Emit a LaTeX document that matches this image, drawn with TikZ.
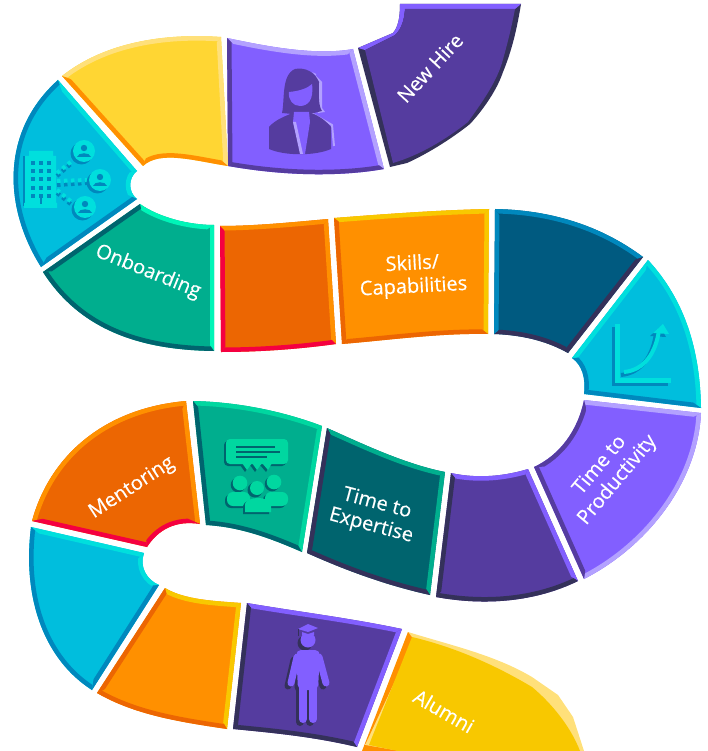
\documentclass[tikz,border=0pt]{standalone}
\usepackage{fontspec}
\setmainfont{Open Sans}
\newfontfamily\tilefont{Open Sans}[FakeBold=0.35]
\usetikzlibrary{calc}

\definecolor{lemon}{HTML}{FFD633}
\definecolor{lemonlight}{HTML}{FFE07A}
\definecolor{gold}{HTML}{F8C800}
\definecolor{amber}{HTML}{FF9000}
\definecolor{rust}{HTML}{EC6602}
\definecolor{crimson}{HTML}{F50040}
\definecolor{violet}{HTML}{825FFF}
\definecolor{violetlight}{HTML}{B3A1FF}
\definecolor{indigo}{HTML}{553C9F}
\definecolor{navy}{HTML}{34315A}
\definecolor{sky}{HTML}{00BEDD}
\definecolor{skylight}{HTML}{00DFDD}
\definecolor{skydark}{HTML}{0088BD}
\definecolor{ocean}{HTML}{005A80}
\definecolor{mint}{HTML}{00AE8E}
\definecolor{mintlight}{HTML}{00F5B8}
\definecolor{mintmid}{HTML}{00D7A0}
\definecolor{pine}{HTML}{00646E}

\tikzset{
  bevel/.style={line width=9pt, line cap=square},
  tiletext/.style={white, font=\tilefont\fontsize{20}{23}\selectfont, align=center, inner sep=0pt}
}

% face, top, right, bottom, left colours and then the four edges
\newcommand{\boardtile}[9]{
  \begin{scope}
    \path #6 coordinate (tb) #7 coordinate (tc) #8 coordinate (td) #9 coordinate (ta);
    \coordinate (tm) at ($($(ta)!.5!(tc)$)!.5!($(tb)!.5!(td)$)$);
    \fill[#1] #6 #7 #8 #9 -- cycle;
    \clip #6 #7 #8 #9 -- cycle;
    \begin{scope}
      \clip (tm) -- ($(tm)!4!(ta)$) -- ($(tm)!4!(tb)$) -- cycle;
      \draw[bevel, #2] #6;
    \end{scope}
    \begin{scope}
      \clip (tm) -- ($(tm)!4!(tb)$) -- ($(tm)!4!(tc)$) -- cycle;
      \draw[bevel, #3] (tb) #7;
    \end{scope}
    \begin{scope}
      \clip (tm) -- ($(tm)!4!(tc)$) -- ($(tm)!4!(td)$) -- cycle;
      \draw[bevel, #4] (tc) #8;
    \end{scope}
    \begin{scope}
      \clip (tm) -- ($(tm)!4!(td)$) -- ($(tm)!4!(ta)$) -- cycle;
      \draw[bevel, #5] (td) #9;
    \end{scope}
  \end{scope}
}

\newcommand{\chartfigure}[2]{
  \draw[#1, line width=5pt] (617.5,324) -- (617.5,380.5) -- (671,380.5);
  \draw[#1, line width=4pt] (624,372) .. controls (645,370) and (656,352) .. (659,330);
  \fill[#2] (653,333) -- (663,324) -- (669,334) -- cycle;
}

\newcommand{\meetingfigure}[1]{
  \fill[#1, rounded corners=4pt] (226,439) rectangle (288,464);
  \fill[#1] (242,463) -- (252,463) -- (247,470) -- cycle (252,463) -- (262,463) -- (257,470) -- cycle (262,463) -- (272,463) -- (268,470) -- cycle;
  \fill[#1] (240,483) circle (7.3) (274,482) circle (7.3);
  \fill[#1, rounded corners=6pt] (227,506) -- (227,492) -- (250,492) -- (250,506) -- cycle (265,506) -- (265,492) -- (288,492) -- (288,506) -- cycle;
}

\newcommand{\graduatefigure}[1]{
  \fill[#1] (308,640) circle (7.5);
  \fill[#1, rounded corners=5pt] (298,690) -- (296,650) -- (320,650) -- (318,690) -- cycle;
  \draw[#1, line width=7pt, line cap=round] (297,657) -- (291,683) (319,657) -- (326,683);
  \draw[#1, line width=8pt, line cap=round] (303,680) -- (303,719) (313,680) -- (313,719);
}

\begin{document}
\begin{tikzpicture}[x=1pt, y=-1pt]
  \useasboundingbox (0,0) rectangle (707,751);
  \clip (0,0) rectangle (707,751);

  % upper row
  \fill[navy] (358,48) -- (393,33) .. controls (398,27) and (400,18) .. (400,4) -- (521,4) .. controls (516,35) and (510,55) .. (503,72) .. controls (497,90) and (483,110) .. (470,124) .. controls (450,140) and (425,155) .. (407,163) -- (390,167) -- cycle;
  \fill[violet] (358,48) -- (393,33) .. controls (398,27) and (400,18) .. (400,4) -- (521,4) -- (515,9) -- (405,9) .. controls (404,20) and (402,28) .. (395,35) -- (365,50) -- cycle;
  \fill[indigo] (365,50) -- (395,35) .. controls (402,28) and (404,20) .. (405,9) -- (515,9) .. controls (511,30) and (507,45) .. (502,63) .. controls (495,85) and (480,105) .. (468,122) .. controls (445,140) and (420,155) .. (393,163) -- cycle;

  \boardtile{violet}{violetlight}{violetlight}{indigo}{indigo}
    {(227,38) .. controls (265,46) and (315,56) .. (353,49)}
    {-- (384,169)}
    {.. controls (345,176) and (290,177) .. (228,166)}
    {-- (227,38)}
  \boardtile{lemon}{lemonlight}{lemonlight}{amber}{amber}
    {(62,76) .. controls (105,42) and (165,33) .. (221,37)}
    {-- (228,166)}
    {.. controls (195,161) and (160,150) .. (143,166)}
    {-- (62,76)}
  \boardtile{sky}{skylight}{skylight}{skydark}{skydark}
    {(58,80) -- (137,171)}
    {.. controls (128,178) and (128,192) .. (137,199)}
    {-- (41,267)}
    {.. controls (2,205) and (2,130) .. (58,80)}

  % second row
  \boardtile{mint}{mintlight}{mintlight}{pine}{pine}
    {(140,204) .. controls (160,218) and (190,225) .. (214,225)}
    {-- (214,351)}
    {.. controls (140,350) and (80,330) .. (43,272)}
    {-- (140,204)}
  \boardtile{rust}{amber}{amber}{crimson}{crimson}
    {(220,226) .. controls (255,226) and (295,222) .. (328,219)}
    {-- (336,344)}
    {.. controls (300,349) and (260,352) .. (221,352)}
    {-- (220,226)}
  \boardtile{amber}{gold}{gold}{rust}{rust}
    {(334,218) .. controls (385,214) and (440,210) .. (489,209)}
    {-- (488,334)}
    {.. controls (440,333) and (390,340) .. (342,344)}
    {-- (334,218)}
  \boardtile{ocean}{skydark}{navy}{navy}{skydark}
    {(495,209) .. controls (550,210) and (600,225) .. (643,257)}
    {-- (568,353)}
    {.. controls (545,340) and (520,335) .. (494,334)}
    {-- (495,209)}
  \boardtile{sky}{skylight}{skylight}{skydark}{skydark}
    {(572,358) -- (648,260)}
    {.. controls (685,300) and (700,350) .. (701,408)}
    {-- (584,394)}
    {.. controls (586,378) and (582,365) .. (572,358)}

  % third row
  \boardtile{violet}{violetlight}{violetlight}{indigo}{indigo}
    {(584,400) -- (701,413)}
    {.. controls (698,480) and (650,545) .. (584,579)}
    {-- (534,467)}
    {.. controls (560,455) and (578,430) .. (584,400)}
  \boardtile{indigo}{violet}{violet}{navy}{navy}
    {(451,473) .. controls (478,479) and (505,476) .. (528,469)}
    {-- (578,581)}
    {.. controls (535,602) and (485,606) .. (436,597)}
    {-- (451,473)}
  \boardtile{pine}{mint}{mint}{navy}{navy}
    {(327,428) .. controls (365,445) and (405,464) .. (445,472)}
    {-- (430,595)}
    {.. controls (385,585) and (345,570) .. (307,553)}
    {-- (327,428)}
  \boardtile{mint}{mintmid}{mintmid}{pine}{pine}
    {(193,401) .. controls (240,402) and (285,412) .. (322,426)}
    {-- (302,552)}
    {.. controls (270,538) and (240,527) .. (206,525)}
    {-- (193,401)}
  \boardtile{rust}{amber}{amber}{crimson}{crimson}
    {(32,521) .. controls (50,455) and (105,408) .. (186,401)}
    {-- (200,524)}
    {.. controls (175,520) and (158,530) .. (147,547)}
    {-- (32,521)}

  % bottom row
  \boardtile{sky}{skylight}{skylight}{skydark}{skydark}
    {(31,527) -- (144,553)}
    {.. controls (139,567) and (147,580) .. (159,585)}
    {-- (92,690)}
    {.. controls (45,660) and (22,600) .. (31,527)}
  \boardtile{amber}{gold}{gold}{rust}{rust}
    {(165,588) .. controls (185,600) and (215,601) .. (241,603)}
    {-- (227,729)}
    {.. controls (180,722) and (135,715) .. (97,693)}
    {-- (165,588)}
  \boardtile{indigo}{violet}{violet}{navy}{navy}
    {(247,603) .. controls (300,612) and (350,618) .. (402,629)}
    {-- (357,747)}
    {.. controls (315,737) and (275,733) .. (233,729)}
    {-- (247,603)}
  \fill[lemonlight] (408,632) .. controls (450,645) and (495,655) .. (532,677) -- (558,695) -- (573,717) -- (584,751) -- (363,751) -- cycle;
  \fill[amber] (408,632) -- (362,751) -- (400,751) -- (365,745) -- (414,640) -- cycle;
  \fill[gold] (412,637) .. controls (450,646) and (490,662) .. (532,687) .. controls (550,702) and (570,725) .. (580,751) -- (398,751) -- (369,745) -- cycle;

  % woman
  \fill[violetlight] (312,72) -- (322,82) -- (322,108) -- (325,112) -- (318,113) -- (316,74) -- cycle;
  \draw[violetlight, line width=2pt] (288,92) .. controls (286,108) and (310,114) .. (312,100);
  \draw[violetlight, line width=2pt] (311,113) -- (332,125) -- (334,146);
  \fill[indigo] (282,113) .. controls (285,100) and (281,75) .. (295,69) .. controls (305,67) and (315,72) .. (319,82) .. controls (319,95) and (318,105) .. (322,111) -- (310,114) -- (292,114) -- cycle;
  \fill[violet] (289,92) .. controls (300,91) and (308,88) .. (312,84) .. controls (314,100) and (308,106) .. (300,106) .. controls (293,106) and (288,100) .. (289,92) -- cycle;
  \fill[indigo] (269,149) -- (269,127) .. controls (275,120) and (285,116) .. (293,113) -- (311,113) .. controls (320,116) and (327,122) .. (331,127) -- (331,149) .. controls (315,156) and (285,156) .. (269,149) -- cycle;
  \fill[violet] (294,112) -- (309,112) -- (310,122) -- (305,154) -- (301,154) -- (293,122) -- cycle;
  \fill[violetlight] (293,122) -- (296,122) -- (303,154) -- (300,154) -- cycle;

  % building and staff
  \fill[skydark] (23,156) rectangle (53,206);
  \fill[skylight] (29,151) rectangle (53,157) (25,156) rectangle (56,204) (24,203) rectangle (57,208);
  \foreach \wx in {33,41,49} {
    \foreach \wy in {163,171,179,188,196} {
      \fill[skydark] (\wx-2,\wy-2) rectangle (\wx+2,\wy+2);
    }
  }
  \fill[skydark] (40,195) rectangle (42,204);
  \draw[skydark, line width=4pt, dash pattern=on 3.5pt off 3.5pt] (57,176) -- (72,163) (57,185) -- (88,183) (57,193) -- (73,206);
  \draw[skylight, line width=4pt, dash pattern=on 3.5pt off 3.5pt] (57,173) -- (73,160) (57,181) -- (88,180) (57,190) -- (73,203);
  \foreach \px/\py in {84/151, 100/180, 85/207} {
    \fill[skydark] (\px-2.5,\py+2.5) circle (11);
    \fill[skylight] (\px,\py) circle (11);
    \fill[skydark] (\px,\py-3) circle (3.2);
    \fill[skydark] (\px-7,\py+6) .. controls (\px-6,\py+1) and (\px+6,\py+1) .. (\px+7,\py+6) -- cycle;
  }

  % growth chart
  \begin{scope}[shift={(-3,3)}]
    \chartfigure{skydark}{skydark}
  \end{scope}
  \chartfigure{skylight}{skylight}

  % meeting
  \begin{scope}[shift={(-2,2)}]
    \meetingfigure{pine}
  \end{scope}
  \meetingfigure{mintmid}
  \draw[pine, line width=1.4pt] (236,447) -- (275,447) (236,452) -- (280,452) (236,457) -- (267,457);
  \fill[pine] (255,490) circle (7.5) (243,514) -- (243,506) .. controls (245,497) and (267,497) .. (269,506) -- (269,514) -- cycle;
  \fill[mintmid] (257,488) circle (7);
  \fill[mintmid] (245,512) -- (245,504) .. controls (247,496) and (269,496) .. (271,504) -- (271,512) -- cycle;

  % graduate
  \begin{scope}[shift={(-3,3)}]
    \graduatefigure{navy}
  \end{scope}
  \graduatefigure{violet}
  \fill[indigo] (300,631) rectangle (316,635);
  \fill[violet] (298,629) -- (308,624) -- (318,628) -- (308,632) -- cycle;
  \fill[violet] (302,632) -- (308,634) -- (314,632) -- (314,635) -- (302,635) -- cycle;
  \draw[navy, line width=0.8pt] (298,629) -- (298,636);

  % labels
  \node (new_hire) [tiletext, rotate=47] at (430,68) {New Hire};
  \node (onboarding) [tiletext, rotate=-22] at (148,272) {Onboarding};
  \node (skills) [tiletext, rotate=3] at (413,276) {Skills/\\Capabilities};
  \node (productivity) [tiletext, rotate=50] at (609,473) {Time to\\Productivity};
  \node (expertise) [tiletext, rotate=-15] at (374,515) {Time to\\Expertise};
  \node (mentoring) [tiletext, rotate=33] at (132,488) {Mentoring};
  \node (alumni) [tiletext, rotate=-30] at (444,711) {Alumni};
\end{tikzpicture}
\end{document}
